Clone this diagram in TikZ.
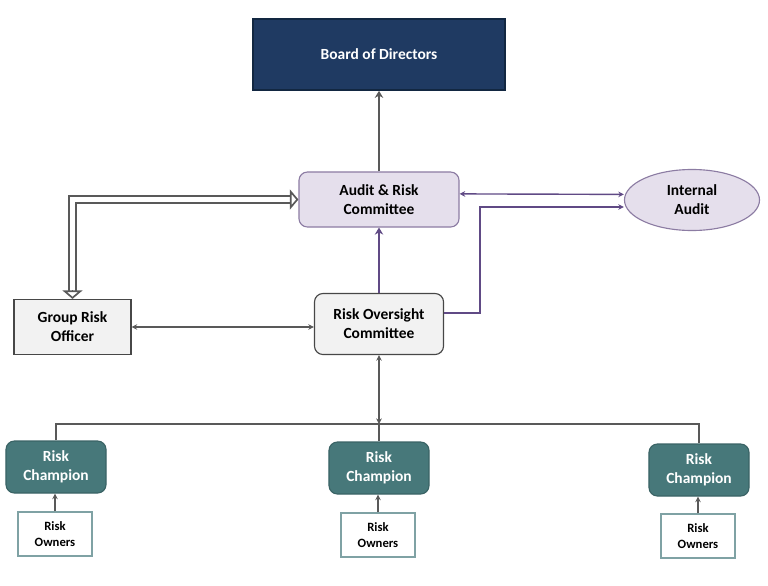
\documentclass[tikz,border=0pt]{standalone}
\usepackage{fontspec}
\setmainfont{Carlito}
\usetikzlibrary{arrows.meta,positioning,shapes.geometric}

\definecolor{boardblue}{HTML}{1F3A62}
\definecolor{boardedge}{HTML}{122741}
\definecolor{lavender}{HTML}{E5DFEC}
\definecolor{lavedge}{HTML}{8C7CA3}
\definecolor{plum}{HTML}{604A85}
\definecolor{linegrey}{HTML}{595959}
\definecolor{boxgrey}{HTML}{F2F2F2}
\definecolor{champteal}{HTML}{47787A}
\definecolor{champedge}{HTML}{3A6365}
\definecolor{owneredge}{HTML}{7FA2A4}

\begin{document}
\begin{tikzpicture}[
  x=0.025cm, y=-0.025cm,
  font=\bfseries\fontsize{11}{13.5}\selectfont,
  every node/.style={align=center},
  board/.style={draw=boardedge, line width=1.6pt, fill=boardblue, text=white,
                minimum width=6.3cm, minimum height=1.76cm},
  lavbox/.style={draw=lavedge, thick, fill=lavender, rounded corners=6pt},
  greybox/.style={draw=linegrey!80!black, thick, fill=boxgrey},
  champ/.style={draw=champedge, thick, fill=champteal, text=white, rounded corners=6pt,
                minimum width=2.5cm, minimum height=1.3cm},
  owner/.style={draw=owneredge, thick, fill=white, font=\bfseries\fontsize{9}{11.5}\selectfont,
                minimum width=1.85cm, minimum height=1.1cm},
  arrow/.style={-{Stealth[length=5pt,width=6pt]}, line width=2pt},
  thinarrow/.style={{Stealth[length=4pt,width=4pt]}-{Stealth[length=4pt,width=4pt]}, line width=1pt},
  dbl/.style={double=white, double distance=3.5pt, line width=1.4pt,
              shorten <=5.5pt, shorten >=5.5pt},
  hollowtip/.style={-{Triangle[open, fill=white, length=6pt, width=14pt]}, line width=1.2pt},
]
\useasboundingbox (0,0) rectangle (768,585);

\node[board] (bod) at (379,54.5) {Board of Directors};

\node[lavbox, minimum width=4cm, minimum height=1.375cm] (arc) at (379,199.5)
  {Audit \& Risk\\Committee};
\node[ellipse, draw=lavedge, thick, fill=lavender, inner sep=0pt,
      minimum width=3.375cm, minimum height=1.525cm] (ia) at (692,200)
  {Internal\\Audit};

\node[greybox, minimum width=2.925cm, minimum height=1.375cm] (gro) at (72.5,327)
  {Group Risk\\Officer};
\node[greybox, rounded corners=6pt, minimum width=3.225cm, minimum height=1.525cm]
  (roc) at (379,324) {Risk Oversight\\Committee};

\foreach \n/\cx/\cy/\ox/\oy in {1/56/467/55/534, 2/379/468/378/535, 3/699/470/698/536}{
  \node[champ] (rc\n) at (\cx,\cy) {Risk\\Champion};
  \node[owner] (ro\n) at (\ox,\oy) {Risk\\Owners};
  \draw[-{Stealth[length=4pt,width=4pt]}, line width=1pt, linegrey]
    (ro\n.north) -- (ro\n.north |- rc\n.south);
}

\draw[arrow, linegrey] (arc.north) -- (bod.south);
\draw[arrow, plum] (roc.north) -- (arc.south);

\draw[dbl, linegrey] (arc.west) -| (gro.north);
\draw[hollowtip, linegrey] ([xshift=-6pt]arc.west) -- (arc.west);
\draw[hollowtip, linegrey] ([yshift=6pt]gro.north) -- (gro.north);

\draw[thinarrow, linegrey] (gro.east) -- (gro.east -| roc.west);
\draw[thinarrow, plum] ([yshift=0.14cm]arc.east) -- ([yshift=0.14cm]ia.west);

\coordinate (elbow) at (480,207);
\draw[-{Stealth[length=4pt,width=4pt]}, line width=1.4pt, plum]
  ([yshift=0.275cm]roc.east) -| (elbow) -- ([yshift=-0.175cm]ia.west);

\coordinate (bus) at (379,424);
\draw[line width=1.6pt, linegrey] (rc1.north) |- (bus) -| (rc3.north);
\draw[line width=1.6pt, linegrey] (bus) -- (rc2.north);
\draw[thinarrow, linegrey] (roc.south) -- (bus);

\end{tikzpicture}
\end{document}
